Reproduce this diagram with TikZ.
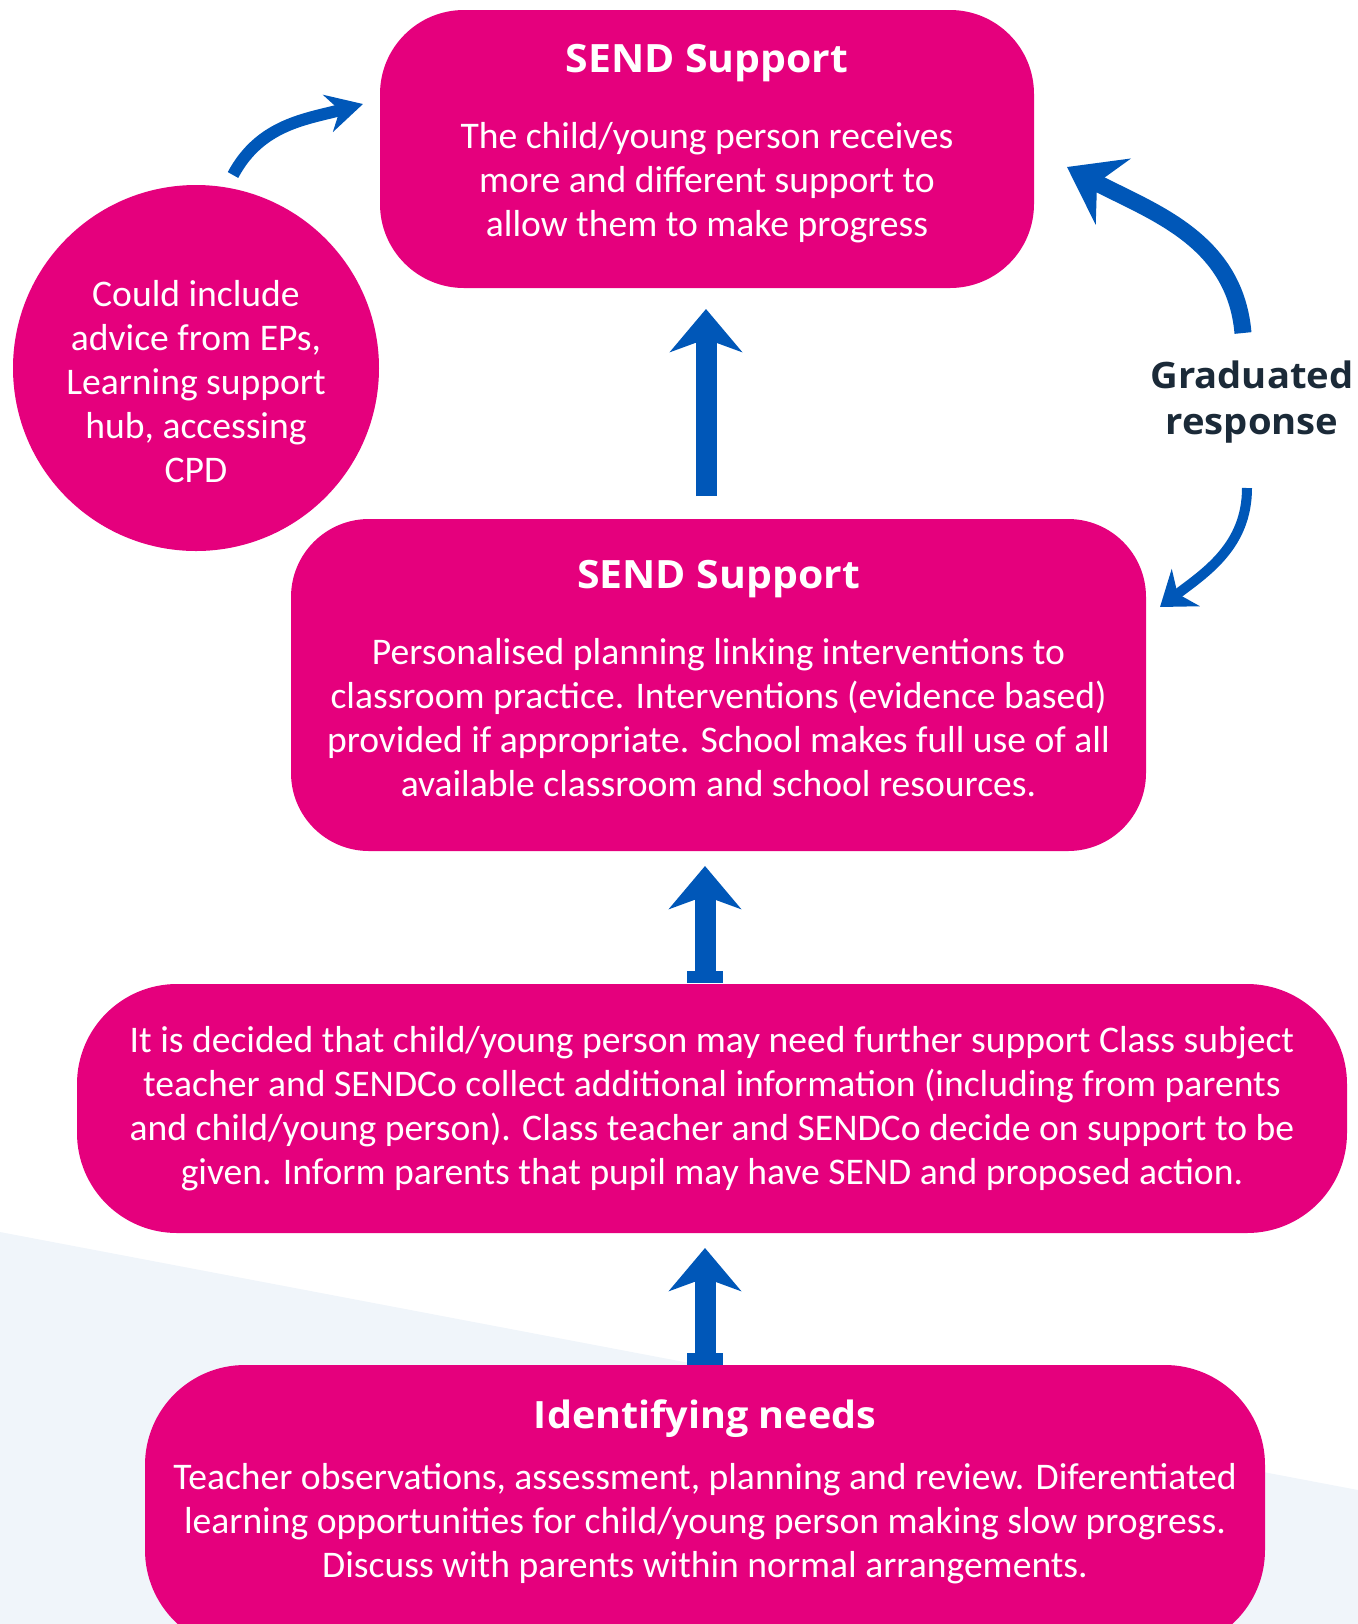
\documentclass[tikz,border=0pt]{standalone}
\usepackage{fontspec}
\setmainfont{Carlito}
\newfontfamily\headfont{Open Sans}[FakeStretch=1.05]
\usetikzlibrary{arrows.meta}

\definecolor{sendpink}{HTML}{E5007D}
\definecolor{sendblue}{HTML}{0057B8}
\definecolor{sendnavy}{HTML}{1B2A38}
\definecolor{sendbg}{HTML}{F0F5FA}

\tikzstyle{box}=[fill=sendpink, text=white, align=center, inner sep=0pt, font=\fontsize{18.8}{22}\selectfont]
\tikzstyle{blob}=[circle, fill=sendpink, inner sep=0pt, minimum size=183pt]
\tikzstyle{plain}=[text=white, align=center, inner sep=0pt, font=\fontsize{18.8}{22}\selectfont]
\tikzstyle{heading}=[font=\headfont\bfseries\fontsize{18.2}{23}\selectfont]
\tikzstyle{uparrow}=[color=sendblue, line width=10.5pt, -{Stealth[length=21.5pt,width=36pt,inset=6.5pt]}]
\tikzstyle{baseuparrow}=[uparrow, {Rectangle[length=6pt,width=18pt]}-{Stealth[length=21.5pt,width=36pt,inset=6.5pt]}]
\tikzstyle{curvearrow}=[color=sendblue]

\begin{document}
\begin{tikzpicture}[x=0.5pt, y=-0.5pt]
    \useasboundingbox (0,0) rectangle (1358,1624);
    \fill[sendbg] (0,1232) -- (1358,1490) -- (1358,1624) -- (0,1624) -- cycle;

    \node[box, rounded corners=42pt, minimum width=327pt, minimum height=139pt] (n1) at (707,149)
      {{\headfont\bfseries\fontsize{19.5}{22}\selectfont SEND Support}\\[16pt]
       The child/young person receives\\
       more and different support to\\
       allow them to make progress\\[-13pt]\mbox{}};
    \node[blob] (n2) at (196,368) {};
    \node[plain] (n8) at (196,382)
      {Could include\\ advice from EPs,\\ Learning support\\ hub, accessing\\ CPD};
    \node[box, rounded corners=39pt, minimum width=427.5pt, minimum height=166pt] (n3) at (718.5,685)
      {{\headfont\bfseries\fontsize{19.5}{22}\selectfont SEND Support}\\[16pt]
       Personalised planning linking interventions to\\
       classroom practice. Interventions (evidence based)\\
       provided if appropriate. School makes full use of all\\
       available classroom and school resources.\\[-15.5pt]\mbox{}};
    \node[box, rounded corners=50pt, minimum width=635pt, minimum height=124.5pt] (n4) at (712,1108.5)
      {It is decided that child/young person may need further support Class subject\\
       teacher and SENDCo collect additional information (including from parents\\
       and child/young person). Class teacher and SENDCo decide on support to be\\
       given. Inform parents that pupil may have SEND and proposed action.};
    \node[box, rounded corners=50pt, minimum width=560pt, minimum height=142.5pt] (n5) at (705,1507.5) {};
    \node[plain] (n6) at (705,1492)
      {{\headfont\bfseries\fontsize{18.8}{22}\selectfont Identifying needs}\\[8.5pt]
       Teacher observations, assessment, planning and review. Diferentiated\\
       learning opportunities for child/young person making slow progress.\\
       Discuss with parents within normal arrangements.};
    \node[heading, text=sendnavy, align=center] (n7) at (1252,402) {Graduated\\ response};

    \coordinate (c1) at (233,175);
    \coordinate (c2) at (363,104);
    \coordinate (c3) at (1243,333);
    \coordinate (c4) at (1067,167);
    \coordinate (c5) at (1247,488);
    \coordinate (c6) at (1160,607);
    \coordinate (c7) at (706,496);
    \coordinate (c8) at (706,309);
    \coordinate (c9) at (705,983);
    \coordinate (c10) at (705,866);
    \coordinate (c11) at (705,1365);
    \coordinate (c12) at (705,1248);

    \path[curvearrow]
    (c1) edge[line width=6pt, out=62, in=195, -{Stealth[length=18pt,width=19pt,inset=6pt]}] (c2)
    (c3) edge[line width=8.5pt, out=95, in=-28, -{Stealth[length=26pt,width=37pt,inset=9pt]}] (c4)
    (c5) edge[line width=5pt, out=-90, in=37, -{Stealth[length=16pt,width=23pt,inset=5pt]}] (c6)
    ;
    \path
    (c7) edge[uparrow] (c8)
    (c9) edge[baseuparrow] (c10)
    (c11) edge[baseuparrow] (c12)
    ;
\end{tikzpicture}
\end{document}
